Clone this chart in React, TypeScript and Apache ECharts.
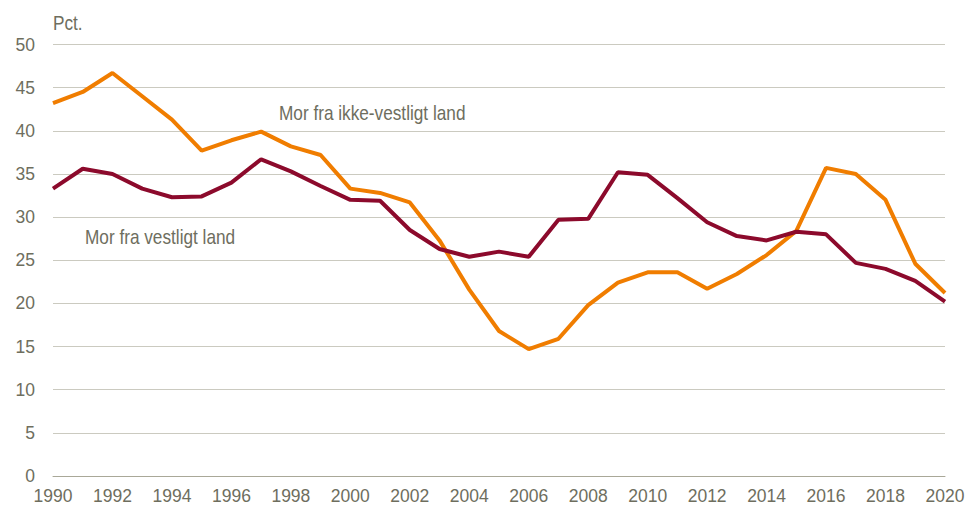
import React, { useEffect, useRef } from "react";
import * as echarts from "echarts";

const years: string[] = [];
for (let y = 1990; y <= 2020; y++) years.push(String(y));

const ikkeVestligt = [
  43.2, 44.5, 46.7, 44.0, 41.3, 37.7, 38.9, 39.9, 38.2, 37.2,
  33.3, 32.8, 31.7, 27.3, 21.6, 16.8, 14.7, 15.9, 19.8, 22.4,
  23.6, 23.6, 21.7, 23.4, 25.6, 28.4, 35.7, 35.0, 32.0, 24.6,
  21.2,
];

const vestligt = [
  33.3, 35.6, 35.0, 33.3, 32.3, 32.4, 34.0, 36.7, 35.3, 33.6,
  32.0, 31.9, 28.5, 26.3, 25.4, 26.0, 25.4, 29.7, 29.8, 35.2,
  34.9, 32.2, 29.4, 27.8, 27.3, 28.3, 28.0, 24.7, 24.0, 22.6,
  20.2,
];

const labelIkke = "Mor fra ikke-vestligt land";
const labelVest = "Mor fra vestligt land";
const unitLabel = "Pct.";

const textColor = "#6e6e5e";
const font = "'Liberation Sans', Arial, sans-serif";

export default function App() {
  const ref = useRef<HTMLDivElement>(null);
  useEffect(() => {
    if (!ref.current) return;
    const chart = echarts.init(ref.current, null, { renderer: "svg" });
    const narrowText = (text: string, x: number, y: number) => ({
      type: "text",
      x,
      y,
      scaleX: 0.82,
      style: {
        text,
        x: 0,
        y: 0,
        fill: textColor,
        font: `21px ${font}`,
        verticalAlign: "top",
        align: "left",
      },
    });
    chart.setOption({
      animation: false,
      backgroundColor: "#ffffff",
      grid: { left: 53, right: 31, top: 44.5, bottom: 35, containLabel: false },
      xAxis: {
        type: "category",
        data: years,
        boundaryGap: false,
        axisLine: { show: true, lineStyle: { color: "#a9a898", width: 1 } },
        axisTick: { show: false },
        axisLabel: {
          interval: 1,
          color: textColor,
          fontSize: 17.5,
          fontFamily: font,
          margin: 11,
        },
      },
      yAxis: {
        type: "value",
        min: 0,
        max: 50,
        interval: 5,
        axisLine: { show: false },
        axisTick: { show: false },
        axisLabel: {
          color: textColor,
          fontSize: 17.5,
          fontFamily: font,
          margin: 18,
        },
        splitLine: { lineStyle: { color: "#cbcac0", width: 1 } },
      },
      graphic: [
        narrowText(unitLabel, 53, 12),
        narrowText(labelIkke, 279, 102),
        narrowText(labelVest, 85, 226),
      ],
      series: [
        {
          name: labelIkke,
          type: "line",
          data: ikkeVestligt,
          symbol: "none",
          lineStyle: { color: "#f07d00", width: 4 },
          itemStyle: { color: "#f07d00" },
        },
        {
          name: labelVest,
          type: "line",
          data: vestligt,
          symbol: "none",
          lineStyle: { color: "#8c0a2c", width: 4 },
          itemStyle: { color: "#8c0a2c" },
        },
      ],
    });
    return () => chart.dispose();
  }, []);
  return (
    <div
      ref={ref}
      style={{ position: "absolute", left: 0, top: 0, width: 976, height: 511 }}
    />
  );
}
